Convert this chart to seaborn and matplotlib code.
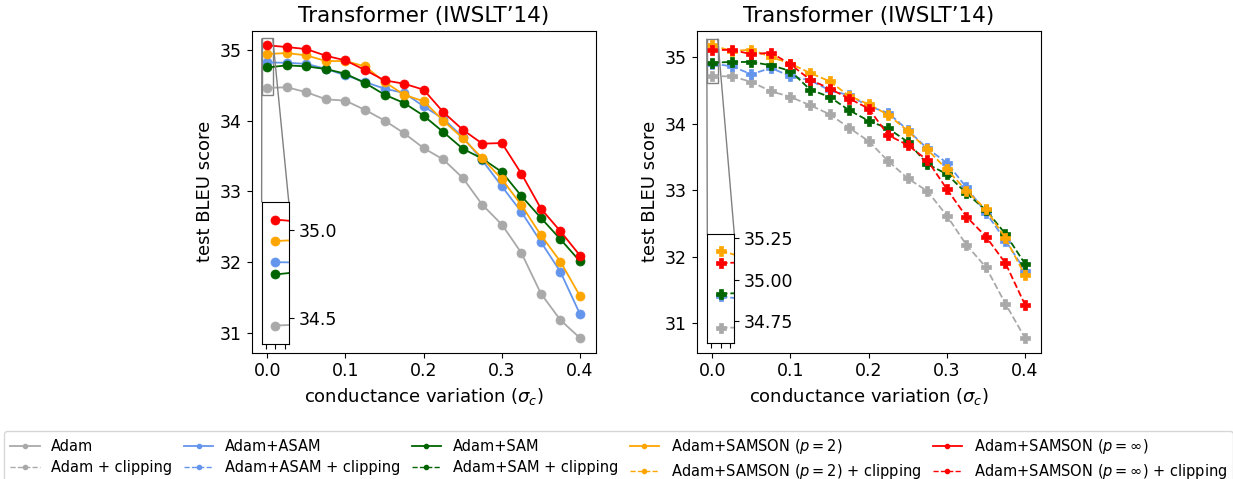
import numpy as np
import pandas as pd
import matplotlib
matplotlib.use("Agg")
import matplotlib.pyplot as plt
from matplotlib.lines import Line2D
from mpl_toolkits.axes_grid1.inset_locator import mark_inset
import seaborn as sns

sigma = [0.0, 0.025, 0.05, 0.075, 0.1, 0.125, 0.15, 0.175, 0.2,
         0.225, 0.25, 0.275, 0.3, 0.325, 0.35, 0.375, 0.4]

# Left panel (no clipping)
adam = [34.46, 34.47, 34.40, 34.30, 34.28, 34.15, 34.00, 33.82, 33.61,
        33.45, 33.19, 32.81, 32.53, 32.13, 31.555, 31.18, 30.927]
asam = [34.82, 34.816, 34.80, 34.73, 34.638, 34.544, 34.45, 34.39, 34.20,
        34.026, 33.767, 33.438, 33.07, 32.708, 32.285, 31.861, 31.264]
sam = [34.75, 34.779, 34.765, 34.727, 34.661, 34.53, 34.365, 34.247, 34.068,
       33.838, 33.602, 33.461, 33.273, 32.934, 32.624, 32.322, 32.01]
samson2 = [34.94, 34.953, 34.92, 34.84, 34.84, 34.765, 34.544, 34.365, 34.271,
           34.0, 33.75, 33.468, 33.172, 32.805, 32.38, 32.005, 31.52]
samsoninf = [35.062, 35.038, 35.009, 34.915, 34.849, 34.713, 34.567, 34.52, 34.435,
             34.12, 33.87, 33.673, 33.682, 33.249, 32.755, 32.435, 32.092]

# Right panel (with clipping)
adam_c = [34.71, 34.71, 34.625, 34.485, 34.40, 34.275, 34.14, 33.935, 33.735,
          33.435, 33.175, 32.985, 32.615, 32.175, 31.84, 31.29, 30.775]
asam_c = [34.90, 34.86, 34.74, 34.835, 34.71, 34.65, 34.50, 34.425, 34.26,
          34.16, 33.90, 33.625, 33.41, 33.04, 32.66, 32.24, 31.79]
sam_c = [34.915, 34.925, 34.925, 34.875, 34.79, 34.51, 34.40, 34.20, 34.04,
         33.925, 33.725, 33.39, 33.24, 32.95, 32.70, 32.34, 31.89]
samson2_c = [35.175, 35.09, 35.11, 35.0, 34.90, 34.76, 34.635, 34.415, 34.29,
             34.13, 33.89, 33.61, 33.31, 32.99, 32.71, 32.275, 31.72]
samsoninf_c = [35.10, 35.11, 35.04, 35.065, 34.89, 34.66, 34.525, 34.375, 34.225,
               33.825, 33.675, 33.45, 33.015, 32.60, 32.30, 31.90, 31.275]

names = ["Adam", "Adam+ASAM", "Adam+SAM", r"Adam+SAMSON ($p=2$)", r"Adam+SAMSON ($p=\infty$)"]
clip_names = ["Adam + clipping", "Adam+ASAM + clipping", "Adam+SAM + clipping",
              r"Adam+SAMSON ($p=2$) + clipping", r"Adam+SAMSON ($p=\infty$) + clipping"]
colors = ["darkgray", "cornflowerblue", "darkgreen", "orange", "red"]
left_series = [adam, asam, sam, samson2, samsoninf]
right_series = [adam_c, asam_c, sam_c, samson2_c, samsoninf_c]

title = "Transformer (IWSLT\u201914)"
xlabel = r"conductance variation ($\sigma_c$)"
ylabel = "test BLEU score"

plt.rcParams['font.family'] = ['DejaVu Sans']
fig = plt.figure(figsize=(12.33, 4.79), dpi=100)
axL = fig.add_axes([0.2041, 0.2637, 0.279, 0.6722])
axR = fig.add_axes([0.5650, 0.2637, 0.279, 0.6722])


def draw(ax, series, marker, ls):
    for s, c in zip(series, colors):
        sns.lineplot(x=sigma, y=s, ax=ax, color=c, marker=marker, linestyle=ls,
                     linewidth=1.3, markersize=6.5, markeredgewidth=0.5,
                     markeredgecolor=c, legend=False)


for ax, series, marker, ls in [(axL, left_series, "o", "-"), (axR, right_series, "P", "--")]:
    draw(ax, series, marker, ls)
    ax.set_title(title, fontsize=15.5)
    ax.set_xlabel(xlabel, fontsize=13)
    ax.set_ylabel(ylabel, fontsize=13)
    ax.tick_params(labelsize=12.5)
    ax.set_xticks([0.0, 0.1, 0.2, 0.3, 0.4])
    ax.set_yticks([31, 32, 33, 34, 35])

# insets
insL = axL.inset_axes([0.029, 0.027, 0.079, 0.44])
draw(insL, left_series, "o", "-")
insL.set_xlim(-0.007, 0.007)
insL.set_ylim(34.355, 35.16)
insL.set_yticks([34.5, 35.0])
insL.set_yticklabels(["34.5", "35.0"])

insR = axR.inset_axes([0.031, 0.029, 0.0785, 0.339])
draw(insR, right_series, "P", "--")
insR.set_xlim(-0.007, 0.007)
insR.set_ylim(34.615, 35.275)
insR.set_yticks([34.75, 35.0, 35.25])
insR.set_yticklabels(["34.75", "35.00", "35.25"])

for ins, ax in [(insL, axL), (insR, axR)]:
    ins.set_xticks([-0.005, 0.0, 0.005])
    ins.set_xticklabels([])
    ins.yaxis.tick_right()
    ins.tick_params(labelsize=12.5)
    ins.set_xlabel("")
    ins.set_ylabel("")
    mark_inset(ax, ins, loc1=2, loc2=1, fc="none", ec="0.5")

handles = []
labels = []
for n, cn, c in zip(names, clip_names, colors):
    handles.append(Line2D([], [], color=c, marker="o", linestyle="-", markersize=3, linewidth=1.3))
    labels.append(n)
    handles.append(Line2D([], [], color=c, marker="o", linestyle="--", markersize=3, linewidth=1.0))
    labels.append(cn)

W, H = 1233.0, 479.0
fig.legend(handles, labels, ncol=5, loc="upper left",
           bbox_to_anchor=(4.5 / W, (H - 431.0) / H),
           borderaxespad=0, fontsize=10.5, handlelength=2.0, handletextpad=0.8,
           columnspacing=0.8, labelspacing=0.45, frameon=True, fancybox=True)

fig.savefig("out.png", dpi=100)
